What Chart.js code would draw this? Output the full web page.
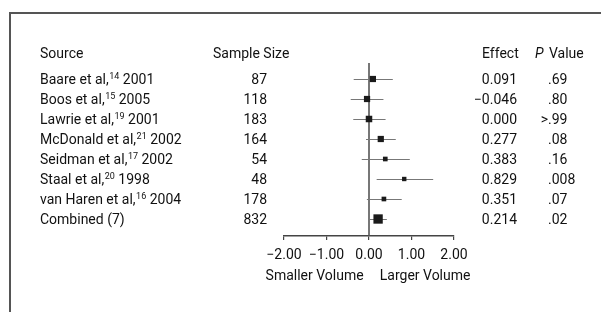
<!DOCTYPE html>
<html>
<head>
<meta charset="utf-8">
<script src="https://cdn.jsdelivr.net/npm/chart.js@4"></script>
<style>body{margin:0;background:#fff}</style>
</head>
<body>
<canvas id="canvas" width="601" height="312"></canvas>
<script>
var sources = ['Baare et al,', 'Boos et al,', 'Lawrie et al,', 'McDonald et al,', 'Seidman et al,', 'Staal et al,', 'van Haren et al,', 'Combined (7)'];
var refs = ['14', '15', '19', '21', '17', '20', '16', ''];
var years = ['2001', '2005', '2001', '2002', '2002', '1998', '2004', ''];
var sampleSize = [87, 118, 183, 164, 54, 48, 178, 832];
var effect = [0.091, -0.046, 0.000, 0.277, 0.383, 0.829, 0.351, 0.214];
var ciLow = [-0.36, -0.43, -0.37, -0.07, -0.17, 0.18, -0.05, 0.02];
var ciHigh = [0.56, 0.34, 0.39, 0.63, 0.96, 1.51, 0.77, 0.42];
var pValues = ['.69', '.80', '>.99', '.08', '.16', '.008', '.07', '.02'];
var xTicks = [-2, -1, 0, 1, 2];

var FONT = 'Roboto, "Liberation Sans", sans-serif';
var TEXT = '#111';

function fmt(v, d) {
    return (v < 0 ? '\u2212' : '') + Math.abs(v).toFixed(d);
}

var forest = {
    id: 'forest',
    beforeDraw: function(chart) {
        var ctx = chart.ctx;
        ctx.save();
        ctx.fillStyle = '#fff';
        ctx.fillRect(0, 0, chart.width, chart.height);
        // frame, only top and left show
        ctx.strokeStyle = '#555';
        ctx.lineWidth = 2;
        ctx.beginPath();
        ctx.moveTo(10, chart.height);
        ctx.lineTo(10, 13);
        ctx.lineTo(chart.width, 13);
        ctx.stroke();
        ctx.restore();
    },
    beforeDatasetsDraw: function(chart) {
        var ctx = chart.ctx, xs = chart.scales.x, ys = chart.scales.y, a = chart.chartArea;
        ctx.save();
        // zero line
        ctx.strokeStyle = '#555';
        ctx.lineWidth = 1.6;
        ctx.beginPath();
        ctx.moveTo(xs.getPixelForValue(0), a.top);
        ctx.lineTo(xs.getPixelForValue(0), a.bottom);
        ctx.stroke();
        // confidence intervals
        ctx.strokeStyle = '#777';
        ctx.lineWidth = 1;
        for (var i = 0; i < effect.length; i++) {
            var y = Math.round(ys.getPixelForValue(i)) + 0.5;
            ctx.beginPath();
            ctx.moveTo(xs.getPixelForValue(ciLow[i]), y);
            ctx.lineTo(xs.getPixelForValue(ciHigh[i]), y);
            ctx.stroke();
        }
        ctx.restore();
    },
    afterDraw: function(chart) {
        var ctx = chart.ctx, xs = chart.scales.x, ys = chart.scales.y;
        ctx.save();
        ctx.fillStyle = TEXT;
        ctx.textBaseline = 'middle';
        var hy = ys.getPixelForValue(0) - 25;
        ctx.font = '14px ' + FONT;
        ctx.textAlign = 'left';
        ctx.fillText('Source', 40, hy);
        ctx.fillText('Sample Size', 213, hy);
        ctx.fillText('Effect', 482, hy);
        ctx.font = 'italic 14px ' + FONT;
        ctx.fillText('P', 535, hy);
        var pw = ctx.measureText('P ').width;
        ctx.font = '14px ' + FONT;
        ctx.fillText('Value', 535 + pw + 2, hy);

        for (var i = 0; i < sources.length; i++) {
            var y = ys.getPixelForValue(i) + 1;
            ctx.font = '14px ' + FONT;
            ctx.textAlign = 'left';
            ctx.fillText(sources[i], 40, y);
            var x = 40 + ctx.measureText(sources[i]).width;
            if (refs[i]) {
                ctx.font = '9px ' + FONT;
                ctx.fillText(refs[i], x + 0.5, y - 3);
                x += ctx.measureText(refs[i]).width + 0.5;
                ctx.font = '14px ' + FONT;
                ctx.fillText(' ' + years[i], x, y);
            }
            ctx.textAlign = 'right';
            ctx.fillText(String(sampleSize[i]), 267, y);
            ctx.fillText(fmt(effect[i], 3), 517, y);
            var p = pValues[i];
            var pre = p.slice(0, p.indexOf('.'));
            ctx.textAlign = 'left';
            ctx.fillText(p, 548 - ctx.measureText(pre).width, y);
        }

        ctx.textAlign = 'center';
        var ly = chart.chartArea.bottom + 40;
        ctx.fillText('Smaller Volume', xs.getPixelForValue(-1.28), ly);
        ctx.fillText('Larger Volume', xs.getPixelForValue(1.32), ly);
        ctx.restore();
    }
};

var ctx = document.getElementById('canvas').getContext('2d');
var myChart = new Chart(ctx, {
    type: 'scatter',
    data: {
        datasets: [{
            data: effect.map(function(v, i) { return {x: v, y: i}; }),
            pointStyle: 'rect',
            pointRadius: [4.4, 4.4, 4.6, 4.4, 3.3, 3.1, 3.3, 6.6],
            backgroundColor: '#1a1a1a',
            borderWidth: 0
        }]
    },
    options: {
        responsive: false,
        animation: false,
        layout: { padding: { left: 284, right: 147, top: 63, bottom: 0 } },
        plugins: { legend: { display: false }, tooltip: { enabled: false } },
        scales: {
            x: {
                type: 'linear',
                min: -2,
                max: 2,
                afterBuildTicks: function(s) {
                    s.ticks = xTicks.map(function(v) { return {value: v}; });
                },
                afterFit: function(s) { s.height = 76; },
                grid: { drawOnChartArea: false, drawTicks: true, tickLength: 4, color: '#444', lineWidth: 1.2 },
                border: { display: true, color: '#444', width: 1.5 },
                ticks: {
                    padding: 7,
                    color: TEXT,
                    font: { family: FONT, size: 14 },
                    callback: function(v) { return fmt(v, 2); }
                }
            },
            y: {
                type: 'linear',
                min: -0.8,
                max: 7.85,
                reverse: true,
                display: false
            }
        }
    },
    plugins: [forest]
});
</script>
</body>
</html>
